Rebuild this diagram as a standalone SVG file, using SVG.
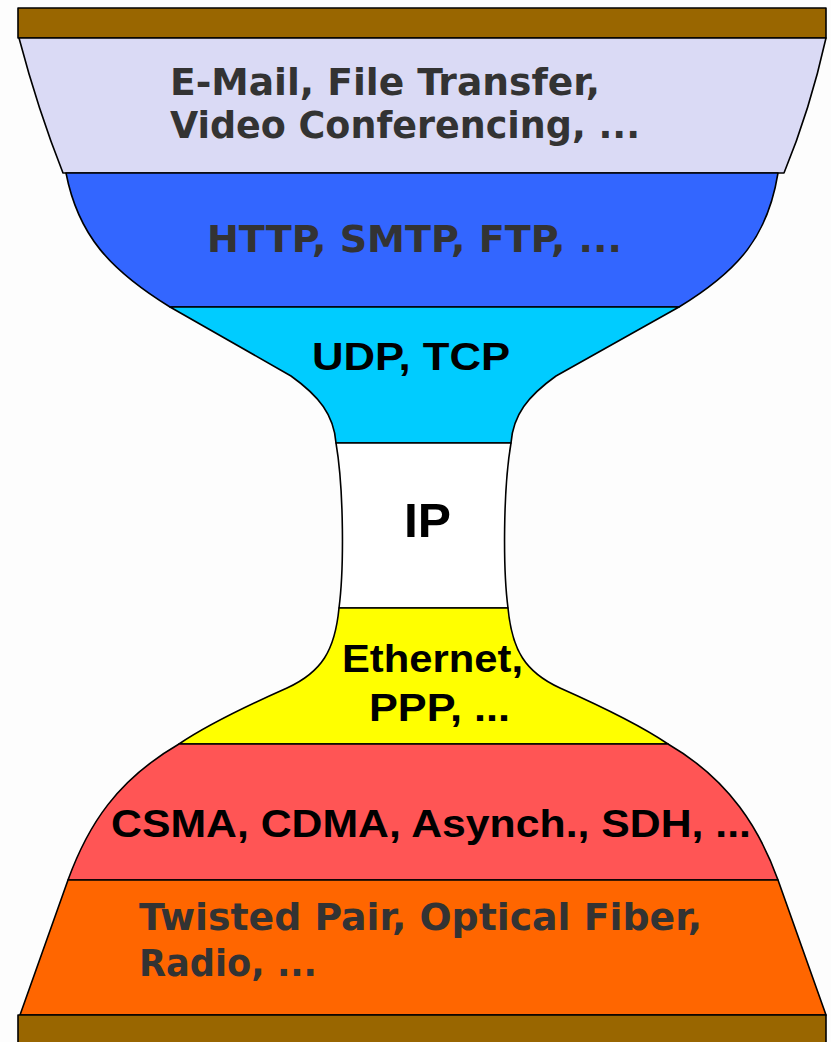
<svg xmlns="http://www.w3.org/2000/svg" width="831" height="1042" viewBox="0 0 831 1042">
<style>
.layer{stroke:#000;stroke-width:1.6;stroke-linejoin:round}
.g{font-family:"DejaVu Sans Condensed","DejaVu Sans",sans-serif;font-weight:bold;font-size:38px;fill:#333}
.k{font-family:"Liberation Sans",Arial,sans-serif;font-weight:bold;font-size:38px;fill:#000}
</style>
<rect width="831" height="1042" fill="#fdfdfd"/>
<g id="top-bar"><rect class="layer" x="18" y="8" width="808" height="30" fill="#996600"/></g>
<g id="applications">
<path class="layer" d="M19,38 L826,38 Q810,110 784,173 L63,173 Q38,110 19,38 Z" fill="#dadaf5"/>
<text class="g" x="170" y="95" textLength="430" lengthAdjust="spacingAndGlyphs">E-Mail, File Transfer,</text>
<text class="g" x="170" y="138" textLength="470" lengthAdjust="spacingAndGlyphs">Video Conferencing, ...</text>
</g>
<g id="application-protocols">
<path class="layer" d="M66,173 L778,173 C768,235 740,270 679,307 L170,307 C110,270 78,235 66,173 Z" fill="#3366ff"/>
<text class="g" x="207" y="252" textLength="415" lengthAdjust="spacingAndGlyphs">HTTP, SMTP, FTP, ...</text>
</g>
<g id="transport">
<path class="layer" d="M170,307 L679,307 L556,376 C528,396 513,415 511,443 L336,443 C334,415 319,396 291,376 Z" fill="#00ccff"/>
<text class="k" x="312" y="370" textLength="198" lengthAdjust="spacingAndGlyphs">UDP, TCP</text>
</g>
<g id="network">
<path class="layer" d="M336,443 L511,443 C503,490 503,570 508,608 L339,608 C344,570 344,490 336,443 Z" fill="#ffffff"/>
<text class="k" x="404" y="537" style="font-size:49px" textLength="47" lengthAdjust="spacingAndGlyphs">IP</text>
</g>
<g id="link">
<path class="layer" d="M339,608 L508,608 C512,650 525,672 560,688 C605,708 640,725 668,744 L179,744 C207,725 242,708 287,688 C322,672 335,650 339,608 Z" fill="#ffff00"/>
<text class="k" x="342" y="672" textLength="181" lengthAdjust="spacingAndGlyphs">Ethernet,</text>
<text class="k" x="369" y="721" textLength="141" lengthAdjust="spacingAndGlyphs">PPP, ...</text>
</g>
<g id="access">
<path class="layer" d="M179,744 L668,744 C730,780 760,830 778,880 L68,880 C88,825 117,780 179,744 Z" fill="#ff5555"/>
<text class="k" x="111" y="837" textLength="640" lengthAdjust="spacingAndGlyphs">CSMA, CDMA, Asynch., SDH, ...</text>
</g>
<g id="physical">
<path class="layer" d="M68,880 L778,880 L826,1015 L20,1015 Z" fill="#ff6600"/>
<text class="g" x="139" y="930" textLength="563" lengthAdjust="spacingAndGlyphs">Twisted Pair, Optical Fiber,</text>
<text class="g" x="139" y="976" textLength="178" lengthAdjust="spacingAndGlyphs">Radio, ...</text>
</g>
<g id="bottom-bar"><rect class="layer" x="18" y="1015" width="808" height="30" fill="#996600"/></g>
<g id="connectors"></g>
</svg>
